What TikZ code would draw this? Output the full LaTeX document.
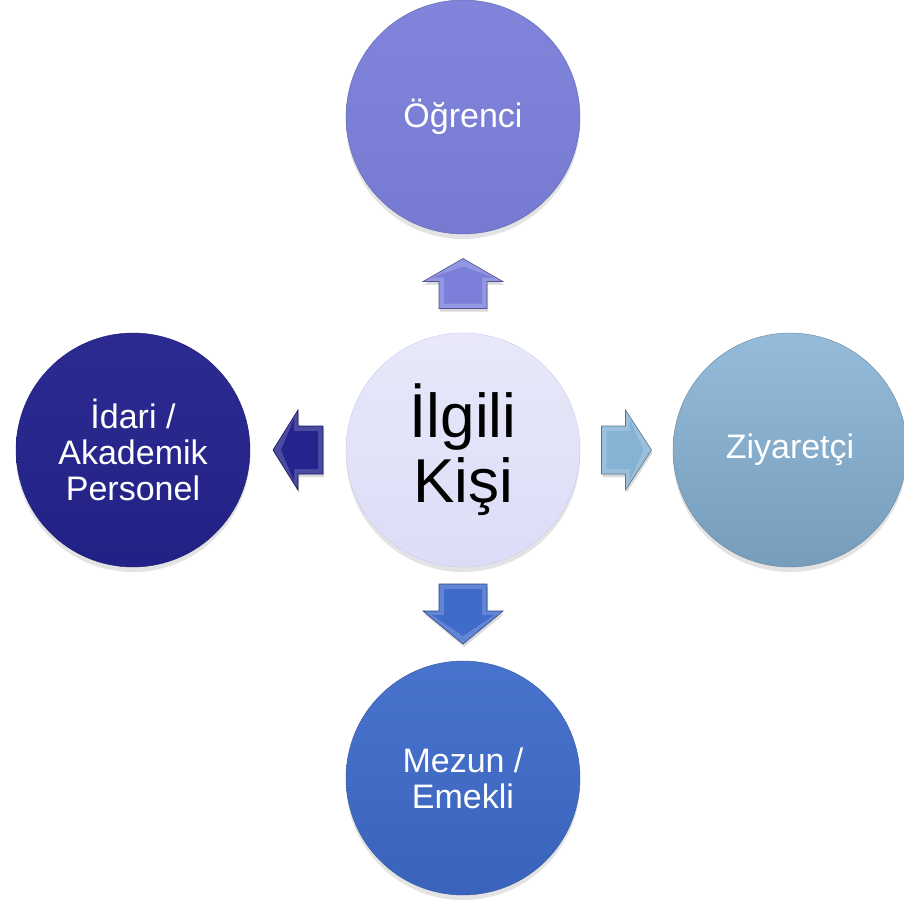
\documentclass[tikz,border=0pt]{standalone}
\usepackage{fontspec}
\setmainfont{Liberation Sans}
\usetikzlibrary{shadows,positioning,calc}
\definecolor{ogrpurple}{RGB}{123,127,217}
\definecolor{kisilav}{RGB}{220,220,247}
\definecolor{idarinavy}{RGB}{36,36,142}
\definecolor{ziysky}{RGB}{134,178,212}
\definecolor{mezunblue}{RGB}{63,108,203}
\begin{document}
\begin{tikzpicture}[x=1pt,y=-1pt,
  circ/.style={circle,minimum size=234pt,inner sep=0pt,align=center,text=white,
    font=\fontsize{34}{36}\selectfont,shading=axis,
    drop shadow={opacity=0.22,shadow xshift=0pt,shadow yshift=-5pt}},
  pics/blockarr/.style 2 args={code={
    \path[pic actions,drop shadow={opacity=0.3,shadow xshift=1pt,shadow yshift=-3pt}]
      (-#1,-24) -- (#1-#2,-24) -- (#1-#2,-40) -- (#1,0) -- (#1-#2,40) -- (#1-#2,24) -- (-#1,24) -- cycle;
    \path[fill=arrface,draw=none]
      (-#1+5,-19) -- (#1-#2+4,-19) -- (#1-#2+4,-31) -- (#1-8,0) -- (#1-#2+4,31) -- (#1-#2+4,19) -- (-#1+5,19) -- cycle;}},
  arrcol/.style={fill=#1!82!white,draw=#1!65!black,line width=0.6pt,
    /utils/exec={\colorlet{arrface}{#1}}}]
\useasboundingbox (0,0) rectangle (904,899);
\node[circ,top color=kisilav!65!white,bottom color=kisilav,draw=kisilav!80!ogrpurple,
  text=black,font=\fontsize{62}{65}\selectfont] (kisi) at (463,450) {İlgili\\Kişi};
\node[circ,top color=ogrpurple!96!white,bottom color=ogrpurple!96!black,draw=ogrpurple!80!black] (ogr) at (463,117) {Öğrenci};
\node[circ,top color=idarinavy!97!white,bottom color=idarinavy!94!black,draw=idarinavy!80!black] (idari) at (133,450) {İdari /\\Akademik\\Personel};
\node[circ,top color=ziysky!88!white,bottom color=ziysky!88!black,draw=ziysky!75!black] (ziy) at (790,450) {Ziyaretçi};
\node[circ,top color=mezunblue!95!white,bottom color=mezunblue!92!black,draw=mezunblue!80!black] (mezun) at (463,778) {Mezun /\\Emekli};
\pic[arrcol=ogrpurple,rotate=90] at ($(kisi.north)!0.5!(ogr.south)$) {blockarr={25}{23}};
\pic[arrcol=idarinavy,rotate=180] at ($(kisi.west)!0.5!(idari.east)$) {blockarr={25}{25}};
\pic[arrcol=ziysky,rotate=0] at ($(kisi.east)!0.5!(ziy.west)$) {blockarr={25}{26}};
\pic[arrcol=mezunblue,rotate=-90] at ($(kisi.south)!0.5!(mezun.north)$) {blockarr={30}{33}};
\end{tikzpicture}
\end{document}
